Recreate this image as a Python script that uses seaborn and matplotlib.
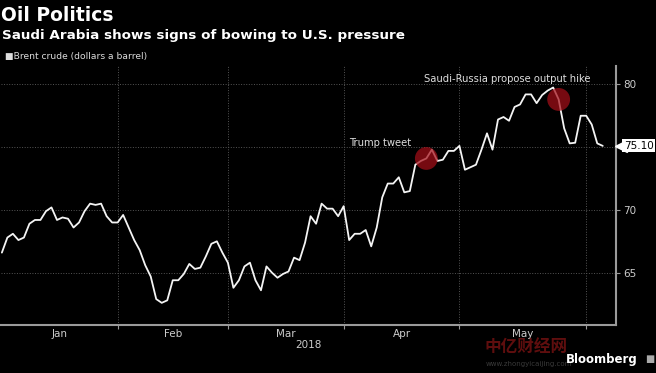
import numpy as np
import pandas as pd
import seaborn as sns
import matplotlib.pyplot as plt
from matplotlib.transforms import blended_transform_factory, offset_copy

# Brent crude (dollars a barrel), one value per trading day
jan = [66.6, 67.8, 68.1, 67.6, 67.8, 68.9, 69.2, 69.2, 69.9, 70.2, 69.2, 69.4,
       69.3, 68.6, 69.0, 69.9, 70.5, 70.4, 70.5, 69.5, 69.0, 69.0]
feb = [69.6, 68.6, 67.6, 66.8, 65.6, 64.7, 62.9, 62.6, 62.8, 64.4, 64.4, 64.9,
       65.7, 65.3, 65.4, 66.3, 67.3, 67.5, 66.6, 65.8]
mar = [63.8, 64.4, 65.5, 65.8, 64.4, 63.6, 65.5, 65.0, 64.6, 64.9, 65.1, 66.2,
       66.0, 67.4, 69.5, 68.9, 70.5, 70.1, 70.1, 69.5, 70.3]
apr = [67.6, 68.1, 68.1, 68.4, 67.1, 68.6, 71.0, 72.1, 72.1, 72.6, 71.4, 71.5,
       73.6, 73.9, 74.1, 74.8, 73.9, 74.0, 74.7, 74.7, 75.1]
may = [73.2, 73.4, 73.6, 74.8, 76.1, 74.8, 77.2, 77.4, 77.1, 78.2, 78.4, 79.2,
       79.2, 78.5, 79.15, 79.5, 79.75, 78.8, 76.5, 75.3, 75.35, 77.5, 77.5]
jun = [76.8, 75.3, 75.1]

month_names = ['Jan', 'Feb', 'Mar', 'Apr', 'May']
event_dates = ['2018-04-20', '2018-05-24']
event_labels = ['Trump tweet', 'Saudi-Russia propose output hike']
event_offsets = [(-33, 11), (-37, 15)]  # text offset from the marked point, points

# trading days (Good Friday closed)
dates = pd.bdate_range('2018-01-02', '2018-06-05').drop(pd.Timestamp('2018-03-30'))
df = pd.DataFrame({'date': dates, 'price': jan + feb + mar + apr + may + jun})
df['day'] = np.arange(len(df))

# month boundaries = last trading day of each month
month_end = df.groupby(df['date'].dt.month)['day'].max().values[:5]
month_mid = (np.r_[0, month_end[:-1]] + month_end) / 2

sns.set_style('dark', {'axes.facecolor': 'black', 'figure.facecolor': 'black'})
plt.rcParams['font.family'] = ['DejaVu Sans', 'Noto Sans CJK SC']

fig = plt.figure(figsize=(6.56, 3.73), dpi=100)
ax = fig.add_axes([0.001, 0.1295, 0.938, 0.6935])
ax.set_facecolor('black')

sns.lineplot(data=df, x='day', y='price', color='#f4f4f4', linewidth=1.3, ax=ax)

# event markers
ev = df[df['date'].isin(pd.to_datetime(event_dates))]
ax.scatter(ev['day'], ev['price'], s=270, color='#a50f19', alpha=0.72,
           edgecolor='none', zorder=4)
for (_, row), label, off in zip(ev.iterrows(), event_labels, event_offsets):
    ax.annotate(label, xy=(row['day'], row['price']), xytext=off,
                textcoords='offset points', ha='center', va='center',
                fontsize=7.2, color='#dddddd')

ax.set_xlim(-0.22, 111.4)
ax.set_ylim(60.86, 81.46)

# x axis: gridlines at month ends, labels centred in each month
ax.set_xticks(month_end)
ax.set_xticks(month_mid, minor=True)
ax.set_xticklabels([''] * len(month_end))
ax.set_xticklabels(month_names, minor=True)
ax.tick_params(axis='x', which='major', length=3, width=0.8, color='#999999',
               bottom=True, direction='out')
ax.tick_params(axis='x', which='minor', length=0, labelsize=7.5,
               labelcolor='#cccccc', pad=3)
ax.set_xlabel('2018', fontsize=7.5, color='#cccccc', labelpad=1)
ax.set_ylabel('')

# y axis on the right
ax.yaxis.tick_right()
ax.set_yticks([65, 70, 75, 80])
ax.set_yticklabels(['65', '70', '', '80'])
ax.tick_params(axis='y', length=3, width=0.8, color='#999999', right=True,
               left=False, labelsize=7.5, labelcolor='#cccccc', pad=2,
               direction='out')

ax.grid(True, which='major', color='#555555', linestyle=':', linewidth=0.7)
for side in ['top', 'left']:
    ax.spines[side].set_visible(False)
for side in ['bottom', 'right']:
    ax.spines[side].set_visible(True)
    ax.spines[side].set_color('#9a9a9a')
    ax.spines[side].set_linewidth(1.5)

# last value tag
last = df['price'].iloc[-1]
blend = blended_transform_factory(ax.transAxes, ax.transData)
ax.plot([1], [last], marker='<', markersize=8, color='white', clip_on=False,
        transform=offset_copy(blend, fig=fig, x=5, y=0, units='dots'), zorder=6)
ax.annotate(f'{last:.2f}', xy=(1, last), xycoords=blend, xytext=(5.5, 0),
            textcoords='offset points', ha='left', va='center', fontsize=7.5,
            color='black', annotation_clip=False, zorder=6,
            bbox=dict(boxstyle='square,pad=0.15', fc='white', ec='none'))

# titles
fig.text(0.0015, 1 - 21 / 373, 'Oil Politics', fontsize=13.5, fontweight='bold',
         color='white', va='baseline', ha='left')
fig.text(0.0026, 1 - 39.3 / 373, 'Saudi Arabia shows signs of bowing to U.S. pressure',
         fontsize=9.7, fontweight='bold', color='white', va='baseline', ha='left')
fig.text(0.008, 1 - 59.3 / 373, '\u25a0Brent crude (dollars a barrel)', fontsize=6.6,
         color='#dddddd', va='baseline', ha='left')

# watermark + logo
fig.text(484 / 656, 1 - 347 / 373, '中亿财经网', family=['Noto Sans CJK SC'],
         fontsize=12, fontweight='bold', color='#a01818', alpha=0.6,
         ha='left', va='center')
fig.text(486 / 656, 1 - 364 / 373, 'www.zhongyicaijing.com', fontsize=5,
         color='#3a3a3a', ha='left', va='center')
fig.text(0.9726, 1 - 359 / 373, 'Bloomberg', fontsize=8.5, fontweight='bold',
         color='white', ha='right', va='center')
fig.text(0.991, 1 - 359 / 373, '\u25a0', fontsize=7, color='#aaaaaa',
         ha='center', va='center')

fig.savefig('out.png', dpi=100, facecolor='black')
